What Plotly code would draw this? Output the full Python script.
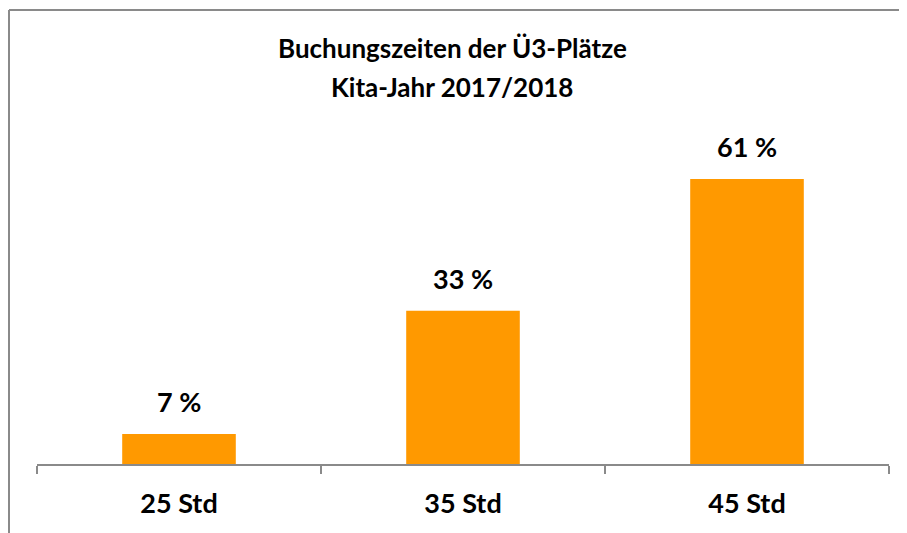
import plotly.graph_objects as go

categories = ["25 Std", "35 Std", "45 Std"]
values = [6.4, 32.8, 61.0]
value_labels = ["7 %", "33 %", "61 %"]
title_lines = ["Buchungszeiten der Ü3-Plätze", "Kita-Jahr 2017/2018"]

W, H = 907, 533
OFF = 8  # page body margin offset
# target page pixel positions
PL, PR, PT, PB = 37, 889, 137, 464
ML = PL - OFF
MR = W - (PR - OFF)
MT = PT - OFF
MB = H - (PB - OFF)
plot_w = W - ML - MR
plot_h = H - MT - MB

FONT = "Lato"
BAR = "#FF9900"
GREY = "#8a8a8a"

fig = go.Figure()
fig.add_trace(go.Bar(x=categories, y=values, marker=dict(color=BAR, line=dict(width=0)),
                     hoverinfo="skip"))

for c, v, t in zip(categories, values, value_labels):
    fig.add_annotation(x=c, y=v, text=t, showarrow=False, yanchor="bottom", yshift=14,
                       font=dict(family=FONT, size=27, color="black", weight=700))

# helpers: page pixel -> paper coords
px2x = lambda px: (px - OFF - ML) / plot_w
px2y = lambda py: (H - MB - (py - OFF)) / plot_h

# title lines as annotations
for txt, py in zip(title_lines, [48, 87]):
    fig.add_annotation(x=px2x(452), y=px2y(py), xref="paper", yref="paper", text=txt,
                       showarrow=False, xanchor="center", yanchor="middle",
                       font=dict(family=FONT, size=26, color="black", weight=700))

# frame lines (top and left)
fig.add_shape(type="line", xref="paper", yref="paper", x0=px2x(9), x1=px2x(W + 20),
              y0=px2y(10), y1=px2y(10), line=dict(color=GREY, width=2))
fig.add_shape(type="line", xref="paper", yref="paper", x0=px2x(9), x1=px2x(9),
              y0=px2y(10), y1=px2y(H + 20), line=dict(color=GREY, width=2))

fig.update_layout(
    width=W, height=H,
    margin=dict(l=ML, r=MR, t=MT, b=MB, autoexpand=False),
    paper_bgcolor="white", plot_bgcolor="white",
    bargap=0.6,
    showlegend=False,
    xaxis=dict(range=[-0.5, 2.5], showline=True, linecolor=GREY, linewidth=1.5,
               ticks="outside", tickson="boundaries", ticklen=8, tickcolor=GREY, tickwidth=1.5,
               showgrid=False, zeroline=False, ticklabelstandoff=15,
               tickfont=dict(family=FONT, size=27, color="black", weight=700)),
    yaxis=dict(range=[0, 70], visible=False, showgrid=False, zeroline=False),
)

fig.write_html("out.html")
